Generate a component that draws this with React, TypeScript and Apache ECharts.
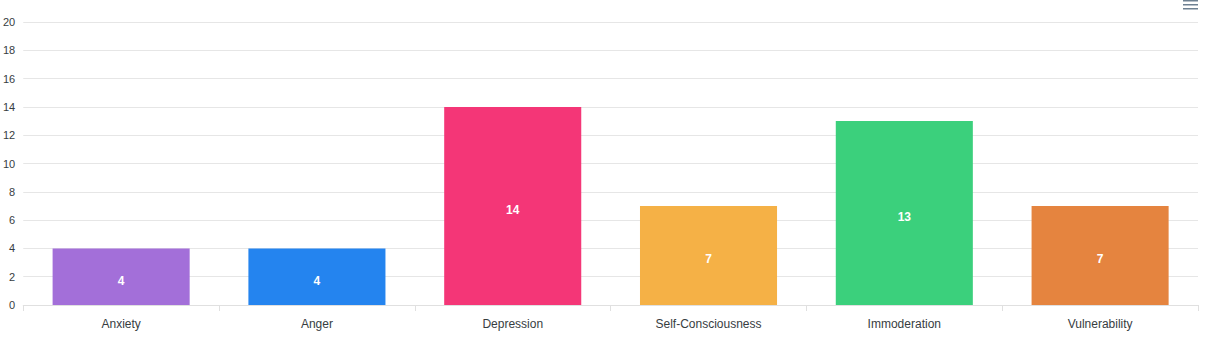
import React, { useEffect, useRef } from "react";
import * as echarts from "echarts";

const categories = ["Anxiety", "Anger", "Depression", "Self-Consciousness", "Immoderation", "Vulnerability"];
const values = [4, 4, 14, 7, 13, 7];
const colors = ["#A36FD9", "#2484EF", "#F43677", "#F5B146", "#3BD07C", "#E5843F"];

export default function App() {
  const ref = useRef<HTMLDivElement>(null);
  useEffect(() => {
    const chart = echarts.init(ref.current!, null, { renderer: "svg" });
    chart.setOption({
      animation: false,
      grid: { left: 20.5, right: 23, top: 22, bottom: 34 },
      xAxis: {
        type: "category",
        data: categories,
        axisLine: { lineStyle: { color: "#e0e0e0" } },
        axisTick: { show: true, length: 6, lineStyle: { color: "#e0e0e0" } },
        axisLabel: { color: "#373d3f", fontSize: 12, fontFamily: "Arial, Liberation Sans, sans-serif", margin: 13 },
      },
      yAxis: {
        type: "value",
        min: 0,
        max: 20,
        interval: 2,
        axisLine: { show: false },
        axisTick: { show: false },
        splitLine: { lineStyle: { color: "#e6e6e6" } },
        axisLabel: { color: "#373d3f", fontSize: 11, fontFamily: "Arial, Liberation Sans, sans-serif", margin: 8 },
      },
      series: [
        {
          type: "bar",
          barWidth: "70%",
          data: values.map((v, i) => ({ value: v, itemStyle: { color: colors[i] } })),
          label: {
            show: true,
            position: "inside",
            color: "#fff",
            fontWeight: "bold",
            fontSize: 12,
            fontFamily: "Arial, Liberation Sans, sans-serif",
            offset: [0, 4],
          },
        },
      ],
      graphic: [
        { type: "rect", shape: { x: 1183, y: 0, width: 15, height: 1.5 }, style: { fill: "#6E8192" } },
        { type: "rect", shape: { x: 1183, y: 4, width: 15, height: 1.5 }, style: { fill: "#6E8192" } },
        { type: "rect", shape: { x: 1183, y: 8, width: 15, height: 1.5 }, style: { fill: "#6E8192" } },
      ],
    });
    return () => chart.dispose();
  }, []);
  return <div ref={ref} style={{ width: 1221, height: 339, position: "absolute", left: 0, top: 0 }} />;
}
